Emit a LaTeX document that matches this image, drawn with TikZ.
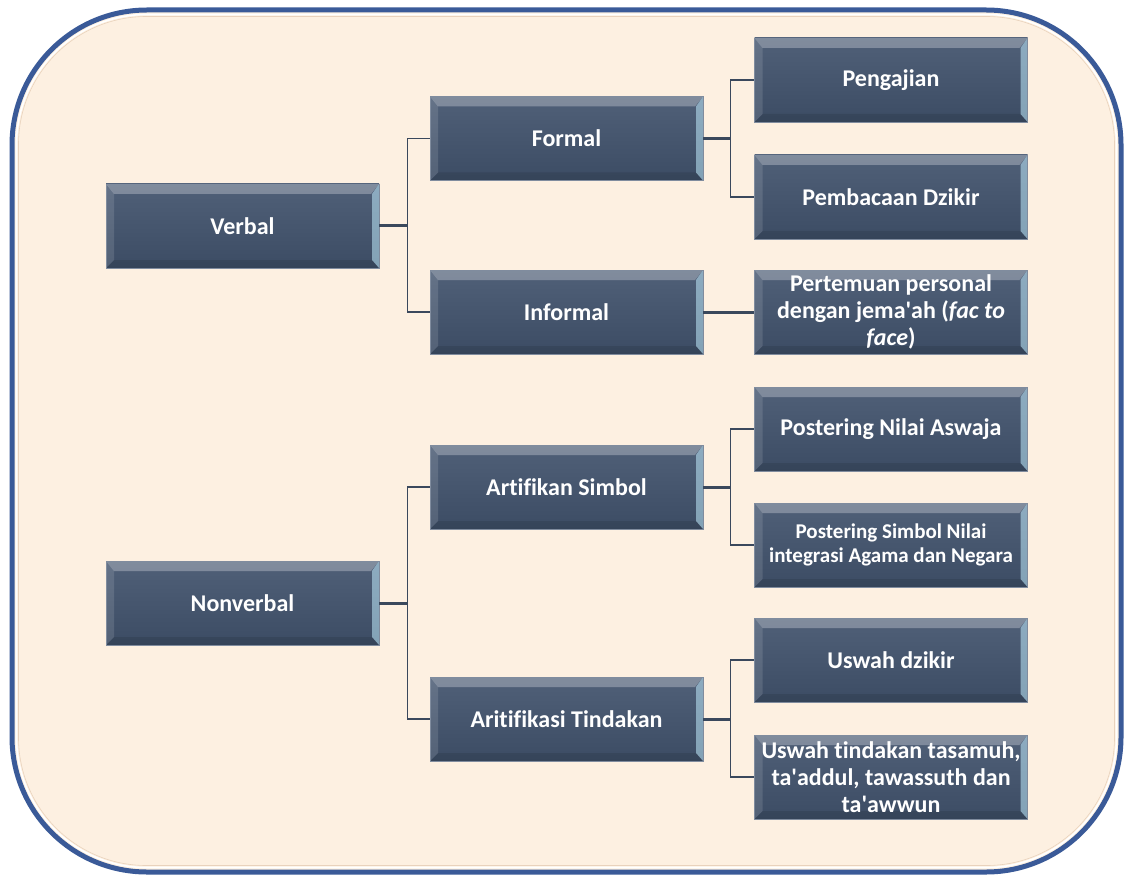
\documentclass[tikz,border=0pt]{standalone}
\usepackage{fontspec}
\setmainfont{Carlito}[Ligatures={NoCommon}]
\definecolor{frameblue}{RGB}{58, 90, 152}
\definecolor{paper}{RGB}{253, 240, 225}
\definecolor{boxtop}{RGB}{80, 96, 120}
\definecolor{boxbot}{RGB}{60, 76, 100}
\definecolor{boxedge}{RGB}{128, 140, 158}
\definecolor{linkgray}{RGB}{58, 72, 92}
\usetikzlibrary{
    positioning,
    calc
}
\tikzset{
    item/.style={draw=boxedge, line width=0.8pt, top color=boxtop, bottom color=boxbot,
        minimum width=273pt, minimum height=84pt, text width=266pt, inner sep=0pt,
        align=flush center, text=white, font=\bfseries\fontsize{24}{27}\selectfont,
        path picture={
            % bevel: light top and right edges, darker bottom
            \fill[white, opacity=0.28] (path picture bounding box.north west)
                -- (path picture bounding box.north east)
                -- ([xshift=-8pt,yshift=-10pt]path picture bounding box.north east)
                -- ([xshift=8pt,yshift=-10pt]path picture bounding box.north west) -- cycle;
            \fill[white!75!cyan, opacity=0.55] (path picture bounding box.north east)
                -- (path picture bounding box.south east)
                -- ([xshift=-7pt,yshift=8pt]path picture bounding box.south east)
                -- ([xshift=-7pt,yshift=-10pt]path picture bounding box.north east) -- cycle;
            \fill[white, opacity=0.12] (path picture bounding box.north west)
                -- (path picture bounding box.south west)
                -- ([xshift=8pt,yshift=8pt]path picture bounding box.south west)
                -- ([xshift=8pt,yshift=-10pt]path picture bounding box.north west) -- cycle;
            \fill[black, opacity=0.10] (path picture bounding box.south west)
                -- (path picture bounding box.south east)
                -- ([xshift=-7pt,yshift=8pt]path picture bounding box.south east)
                -- ([xshift=8pt,yshift=8pt]path picture bounding box.south west) -- cycle;
        }},
    small item/.style={item, font=\bfseries\fontsize{21}{24}\selectfont},
    trunk/.style={draw=linkgray, line width=3pt},
    branch/.style={draw=linkgray, line width=1.8pt}
}
\newcommand{\apos}{\textquotesingle}

\begin{document}
\begin{tikzpicture}[x=1pt, y=-1pt]
            % Page and frame
            \fill[white] (0,0) rectangle (1126,877);
            \useasboundingbox (0,0) rectangle (1126,877);
            \draw[frameblue, line width=5pt, fill=paper, rounded corners=135pt] (12,10) rectangle (1121,872);
            \draw[white, line width=1.6pt, rounded corners=130pt] (16.5,14.5) rectangle (1116.5,867.5);
            \draw[brown!35, line width=0.6pt, rounded corners=128pt] (18.5,16.5) rectangle (1114.5,865.5);

            % Level 1
            \node[item] (verbal) at (242.5,226) {Verbal};
            \node[item] (nonverbal) at (242.5,603) {Nonverbal};

            % Level 2
            \node[item] (formal) at (566.5,138.5) {Formal};
            \node[item] (informal) at (566.5,312) {Informal};
            \node[item] (artifikan) at (566.5,487) {Artifikan Simbol};
            \node[item] (aritifikasi) at (566.5,719) {Aritifikasi Tindakan};

            % Level 3
            \node[item] (pengajian) at (891,80) {Pengajian};
            \node[item] (pembacaan) at (891,197) {Pembacaan Dzikir};
            \node[item] (pertemuan) at (891,312) {Pertemuan personal\\dengan jema\apos ah (\textit{fac to}\\\textit{face})};
            \node[item] (aswaja) at (891,429) {Postering Nilai Aswaja};
            \node[small item] (simbol) at (891,545) {Postering Simbol Nilai\\integrasi Agama dan Negara};
            \node[item] (uswahdzikir) at (891,660) {Uswah dzikir};
            \node[item] (uswahtindakan) at (891,777) {Uswah tindakan tasamuh,\\ta\apos addul, tawassuth dan\\ta\apos awwun};

            % Connectors
            \draw[trunk] (verbal.east) -- ++(28,0) coordinate (vbus);
            \draw[trunk] (nonverbal.east) -- ++(28,0) coordinate (nbus);
            \draw[trunk] (formal.east) -- ++(27,0) coordinate (fbus);
            \draw[trunk] (artifikan.east) -- ++(27,0) coordinate (abus);
            \draw[trunk] (aritifikasi.east) -- ++(27,0) coordinate (tbus);
            \draw[trunk] (informal.east) -- (pertemuan.west);
            \foreach \bus/\child in {vbus/formal, vbus/informal, nbus/artifikan, nbus/aritifikasi,
                fbus/pengajian, fbus/pembacaan, abus/aswaja, abus/simbol,
                tbus/uswahdzikir, tbus/uswahtindakan} {
                \draw[branch] (\bus) |- (\child.west);
            }
        \end{tikzpicture}
\end{document}
